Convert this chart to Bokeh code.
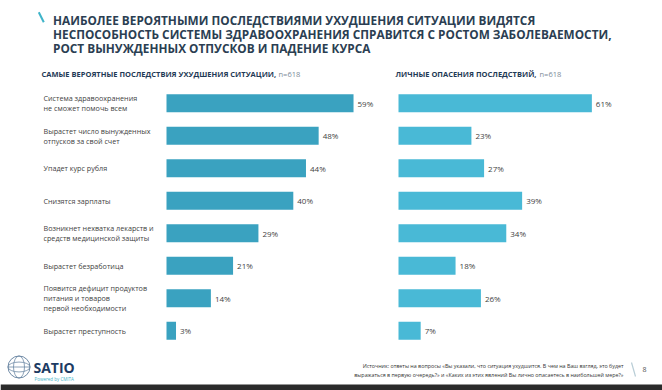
from bokeh.plotting import figure
from bokeh.layouts import column, row
from bokeh.models import Range1d, ColumnDataSource
from bokeh.core.properties import value
from bokeh.embed import file_html
from bokeh.resources import INLINE

# ---------------- data ----------------
title_lines = [
    "НАИБОЛЕЕ ВЕРОЯТНЫМИ ПОСЛЕДСТВИЯМИ УХУДШЕНИЯ СИТУАЦИИ ВИДЯТСЯ",
    "НЕСПОСОБНОСТЬ СИСТЕМЫ ЗДРАВООХРАНЕНИЯ СПРАВИТСЯ С РОСТОМ ЗАБОЛЕВАЕМОСТИ,",
    "РОСТ ВЫНУЖДЕННЫХ ОТПУСКОВ И ПАДЕНИЕ КУРСА",
]
categories = [
    "Система здравоохранения\nне сможет помочь всем",
    "Вырастет число вынужденных\nотпусков за свой счет",
    "Упадет курс рубля",
    "Снизятся зарплаты",
    "Возникнет нехватка лекарств и\nсредств медицинской защиты",
    "Вырастет безработица",
    "Появится дефицит продуктов\nпитания и товаров\nпервой необходимости",
    "Вырастет преступность",
]
likely = [59, 48, 44, 40, 29, 21, 14, 3]
personal = [61, 23, 27, 39, 34, 18, 26, 7]
left_subtitle = "САМЫЕ ВЕРОЯТНЫЕ ПОСЛЕДСТВИЯ УХУДШЕНИЯ СИТУАЦИИ,"
right_subtitle = "ЛИЧНЫЕ ОПАСЕНИЯ ПОСЛЕДСТВИЙ,"
n_label = "n=618"
source_lines = [
    "Источник: ответы на вопросы «Вы указали, что ситуация ухудшится. В чем на Ваш взгляд, это будет",
    "выражаться в первую очередь?» и «Каких из этих явлений Вы лично опасаетесь в наибольшей мере?»",
]
page_number = "8"
logo_text = "SATIO"
logo_sub = "Powered by CMITA"

# ---------------- style ----------------
FONT = value("Open Sans")
TITLE_C = "#2b3e52"
SUB_C = "#1f3a56"
GRAY_C = "#7d8b98"
TXT_C = "#3f3f3f"
LEFT_BAR = "#3aa2c0"
RIGHT_BAR = "#49b9d6"
TEAL = "#3fb4c9"

PX_PER = 3.17       # pixels per percent
ROW_PX = 32.5       # pixels per row
PANEL_H = 290
FIRST_ROW = 42.7    # px from panel top to first row centre


def blank(w, h, xr, yr):
    p = figure(width=w, height=h, x_range=xr, y_range=yr,
               output_backend="svg", toolbar_location=None,
               x_axis_type=None, y_axis_type=None, min_border=0)
    p.grid.visible = False
    p.outline_line_color = None
    p.background_fill_color = "white"
    p.border_fill_color = "white"
    return p


# ---------------- header ----------------
HW, HH = 662, 60
header = blank(HW, HH, Range1d(0, HW), Range1d(HH, 0))
header.segment(x0=[38.3], y0=[11.7], x1=[43.3], y1=[21.7], line_color=TEAL, line_width=2)
header.text(x=[52.5] * 3, y=[19, 33, 47.5], text=title_lines,
            text_font=FONT, text_font_style="bold", text_font_size="11.8px",
            text_color=TITLE_C, text_baseline="middle", text_align="left")


# ---------------- panels ----------------
def panel(width, origin_px, values, color, subtitle, sub_off, n_off, with_labels):
    xr = Range1d(-origin_px / PX_PER, (width - origin_px) / PX_PER)
    top = -FIRST_ROW / ROW_PX
    bottom = top + PANEL_H / ROW_PX
    p = blank(width, PANEL_H, xr, Range1d(bottom, top))
    idx = list(range(len(values)))
    src = ColumnDataSource(dict(idx=idx, val=values,
                                lab=[f"{v}%" for v in values], cat=categories))
    p.hbar(y="idx", left=0, right="val", height=0.55, source=src,
           fill_color=color, line_color=None)
    p.text(x="val", y="idx", text="lab", source=src, x_offset=4,
           text_font=FONT, text_font_size="8px", text_color=TXT_C,
           text_baseline="middle", text_align="left")
    if with_labels:
        p.text(x=0, y="idx", text="cat", source=src, x_offset=-123,
               text_font=FONT, text_font_size="7.2px", text_color=TXT_C,
               text_baseline="middle", text_align="left", text_line_height=0.98)
    sub_y = top + 13 / ROW_PX
    p.text(x=[0], y=[sub_y], text=[subtitle], x_offset=sub_off,
           text_font=FONT, text_font_style="bold", text_font_size="7.5px",
           text_color=SUB_C, text_baseline="middle", text_align="left")
    p.text(x=[0], y=[sub_y], text=[n_label], x_offset=n_off,
           text_font=FONT, text_font_size="7.5px",
           text_color=GRAY_C, text_baseline="middle", text_align="left")
    return p


left = panel(385, 166, likely, LEFT_BAR, left_subtitle, -125, 112, True)
right = panel(277, 13, personal, RIGHT_BAR, right_subtitle, -3, 141, False)

# ---------------- footer ----------------
FW, FH = 662, 40
footer = blank(FW, FH, Range1d(0, FW), Range1d(FH, 0))
gx, gy, gr = 18.5, 16.5, 11
footer.circle(x=[gx], y=[gy], radius=gr, fill_color=None, line_color="#6f8aa6", line_width=1)
footer.ellipse(x=[gx], y=[gy], width=[gr], height=[2 * gr], fill_color=None,
               line_color="#6f8aa6", line_width=0.8)
footer.ellipse(x=[gx], y=[gy], width=[2 * gr], height=[gr * 0.9], fill_color=None,
               line_color="#6f8aa6", line_width=0.8)
footer.segment(x0=[gx - gr], y0=[gy], x1=[gx + gr], y1=[gy], line_color="#6f8aa6", line_width=0.8)
footer.text(x=[33], y=[17], text=[logo_text], text_font=FONT, text_font_style="bold",
            text_font_size="14px", text_color="#1d3b63", text_baseline="middle")
footer.text(x=[34], y=[28], text=[logo_sub], text_font=FONT,
            text_font_size="4.5px", text_color=TEAL, text_baseline="middle")
footer.text(x=[623, 623], y=[15.5, 24.5], text=source_lines, text_font=FONT,
            text_font_size="5.35px", text_color="#333333", text_baseline="middle",
            text_align="right")
footer.segment(x0=[631], y0=[12], x1=[635], y1=[26], line_color="#b9cdd6", line_width=1.2)
footer.text(x=[644], y=[19], text=[page_number], text_font=FONT,
            text_font_size="7px", text_color="#555555", text_baseline="middle",
            text_align="center")
footer.quad(left=[0], right=[FW], top=[34], bottom=[FH], fill_color="#2b2b2b", line_color=None)

layout = column(header, row(left, right), footer)
open("out.html", "w").write(file_html(layout, INLINE))
